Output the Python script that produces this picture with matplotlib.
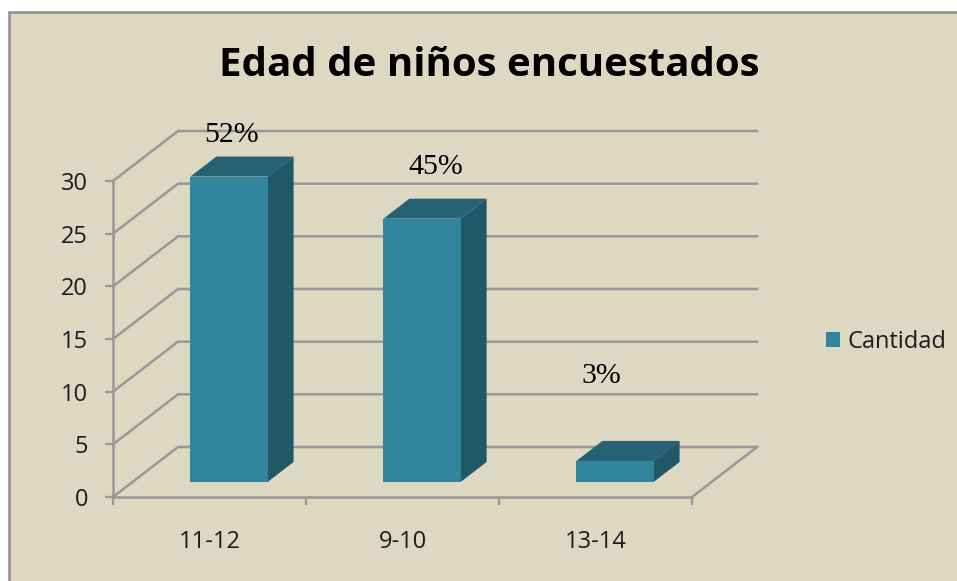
import matplotlib
matplotlib.use('Agg')
import matplotlib.pyplot as plt
from matplotlib.patches import Rectangle

categories = ['11-12', '9-10', '13-14']
cantidad = [29, 25, 2]
porcentajes = ['52%', '45%', '3%']
y_ticks = [0, 5, 10, 15, 20, 25, 30]

# hand placed labels in the original, pixels from top centre of the bar front
label_offsets = [(2, 42), (14, 52), (-14, 85)]

W, H = 957, 581
BG = '#DDD8C2'
GRID = '#989898'
FRONT = '#31859C'
TOP = '#266274'
SIDE = '#205867'
TEXT = '#1c1c1c'

# oblique depth of the floor, in data units
DEPTH_X = 65 / 193
DEPTH_Y = 50 / (316 / 30)
BAR_WIDTH = 0.4
BAR_D0, BAR_D1 = 0.3, 0.7


def project(x, v, d):
    return x + d * DEPTH_X, v + d * DEPTH_Y


def draw_walls(ax):
    for v in y_ticks:
        x0, y0 = project(0, v, 0)
        x1, y1 = project(0, v, 1)
        x2, y2 = project(3, v, 1)
        ax.plot([x0, x1, x2], [y0, y1, y2], color=GRID, lw=1.8, zorder=1,
                clip_on=False, solid_joinstyle='miter')
    x0, y0 = project(3, 0, 0)
    x1, y1 = project(3, 0, 1)
    ax.plot([x0, x1], [y0, y1], color=GRID, lw=1.8, zorder=1, clip_on=False)


def draw_bars(ax):
    bars = None
    for i, v in enumerate(cantidad):
        left = i + 0.5 - BAR_WIDTH / 2
        right = left + BAR_WIDTH
        pts = [project(left, v, BAR_D0), project(right, v, BAR_D0),
               project(right, v, BAR_D1), project(left, v, BAR_D1)]
        ax.fill(*zip(*pts), color=TOP, lw=0, zorder=3, clip_on=False)
        pts = [project(right, 0, BAR_D0), project(right, v, BAR_D0),
               project(right, v, BAR_D1), project(right, 0, BAR_D1)]
        ax.fill(*zip(*pts), color=SIDE, lw=0, zorder=3, clip_on=False)
        fx, fy = project(left, 0, BAR_D0)
        b = ax.bar(fx, v, BAR_WIDTH, bottom=fy, align='edge', color=FRONT,
                   zorder=4, clip_on=False, label='Cantidad' if i == 0 else None)
        if bars is None:
            bars = b
        cx, cy = project(i + 0.5, v, BAR_D0)
        dx, dy = label_offsets[i]
        ax.annotate(porcentajes[i], (cx, cy), xytext=(dx * 0.72, dy * 0.72),
                    textcoords='offset points', ha='center', va='center',
                    family='Liberation Serif', fontsize=21.5, color='black',
                    zorder=6, annotation_clip=False)
    return bars


fig = plt.figure(figsize=(W / 100, H / 100), dpi=100, facecolor='white')
fig.add_artist(Rectangle((9 / W, -0.01), 1, 1 - 12 / H + 0.01, transform=fig.transFigure,
                         facecolor=BG, edgecolor='#8c8c8c', lw=1.8, zorder=-1))

ax = fig.add_axes([113 / W, 1 - 497 / H, (692 - 113) / W, (497 - 181) / H])
ax.patch.set_visible(False)
ax.set_xlim(0, 3)
ax.set_ylim(0, 30)

draw_walls(ax)
bars = draw_bars(ax)

for name in ['top', 'right']:
    ax.spines[name].set_visible(False)
for name in ['left', 'bottom']:
    ax.spines[name].set_color(GRID)
    ax.spines[name].set_linewidth(1.8)

ax.set_yticks(y_ticks)
ax.set_xticks([0, 1, 2, 3])
ax.set_xticklabels([])
ax.set_xticks([0.5, 1.5, 2.5], minor=True)
ax.set_xticklabels(categories, minor=True)
ax.tick_params(axis='both', which='major', length=6, width=1.6, color=GRID, direction='out')
ax.tick_params(axis='x', which='minor', length=0, pad=24, labelsize=17, labelcolor=TEXT)
ax.tick_params(axis='y', pad=12, labelsize=17, labelcolor=TEXT)
for lab in ax.get_xticklabels(minor=True) + ax.get_yticklabels():
    lab.set_family('Open Sans')

fig.text(489 / W, 1 - 65 / H, 'Edad de niños encuestados', ha='center', va='center',
         family='Open Sans', fontweight='bold', fontsize=29, color='black')

ax.legend(handles=[bars], loc='center left', bbox_to_anchor=(826 / W, 1 - 342 / H),
          bbox_transform=fig.transFigure, frameon=False,
          prop={'family': 'Open Sans', 'size': 17}, labelcolor=TEXT, handlelength=0.6,
          handleheight=0.6, handletextpad=0.3, borderpad=0, borderaxespad=0)

fig.savefig('out.png', dpi=100)
